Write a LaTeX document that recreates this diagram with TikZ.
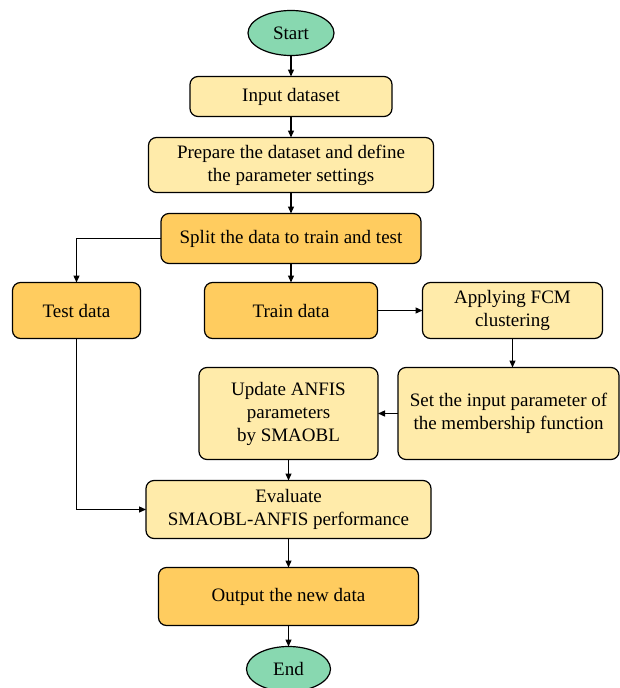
\documentclass[tikz,border=0pt]{standalone}
\usepackage{fontspec}
\setmainfont{Liberation Serif}
\usepackage{tikz}
\usetikzlibrary{arrows.meta,positioning,shapes.geometric}
\usepackage{xcolor}
\definecolor{termgreen}{RGB}{136,216,176}
\definecolor{paleyellow}{RGB}{255,235,170}
\definecolor{deeporange}{RGB}{255,204,95}
\tikzset{
  terminal/.style={ellipse, draw=black, line width=1.2pt, fill=termgreen,
                   minimum width=86pt, minimum height=45pt, inner sep=0pt, outer sep=0pt,
                   font=\fontsize{19}{23}\selectfont},
  procbox/.style={rectangle, rounded corners=8pt, draw=black, line width=1.2pt,
                  fill=paleyellow, align=center, inner sep=0pt, outer sep=0pt,
                  font=\fontsize{19}{23}\selectfont},
  procorange/.style={procbox, fill=deeporange},
  arrow/.style={-{Triangle[length=7pt,width=6pt]}, line width=1.3pt, black},
}
\begin{document}
\begin{tikzpicture}
\useasboundingbox (0,0) rectangle (619pt,-688pt);
% Main column
\node[terminal] (start) at (291pt,-33pt) {Start};
\node[procbox, below=21pt of start, minimum width=202pt, minimum height=40pt] (input) {Input dataset};
\node[procbox, below=21pt of input, minimum width=285pt, minimum height=55pt] (prepare) {Prepare the dataset and define\\the parameter settings};
\node[procorange, below=21pt of prepare, minimum width=260pt, minimum height=50pt] (split) {Split the data to train and test};
\node[procorange, below=19pt of split, minimum width=173pt, minimum height=56pt] (train) {Train data};
\node[procorange, left=64pt of train, minimum width=128pt, minimum height=56pt] (test) {Test data};
\node[procbox, right=45pt of train, minimum width=180pt, minimum height=56pt] (fcm) {Applying FCM\\clustering};
\node[procbox, below=29pt of fcm, xshift=-4pt, minimum width=221pt, minimum height=92pt] (setmf) {Set the input parameter of\\the membership function};
\node[procbox, left=20pt of setmf, minimum width=179pt, minimum height=92pt] (update) {Update ANFIS\\parameters\\by SMAOBL};
\node[procbox, below=21pt of update, minimum width=285pt, minimum height=58pt] (evaluate) {Evaluate\\SMAOBL-ANFIS performance};
\node[procorange, below=29pt of evaluate, minimum width=260pt, minimum height=58pt] (output) {Output the new data};
\node[terminal, below=21pt of output, minimum width=84pt] (finish) {End};

% Connectors
\draw[arrow] (start) -- (input);
\draw[arrow] (input) -- (prepare);
\draw[arrow] (prepare) -- (split);
\draw[arrow] (split) -- (train);
\draw[arrow] (split.west) -| (test.north);
\draw[arrow] (train) -- (fcm);
\draw[arrow] (fcm.south) -- (fcm.south |- setmf.north);
\draw[arrow] (setmf) -- (update);
\draw[arrow] (update) -- (evaluate);
\draw[arrow] (test.south) |- (evaluate.west);
\draw[arrow] (evaluate) -- (output);
\draw[arrow] (output) -- (finish);
\end{tikzpicture}
\end{document}
